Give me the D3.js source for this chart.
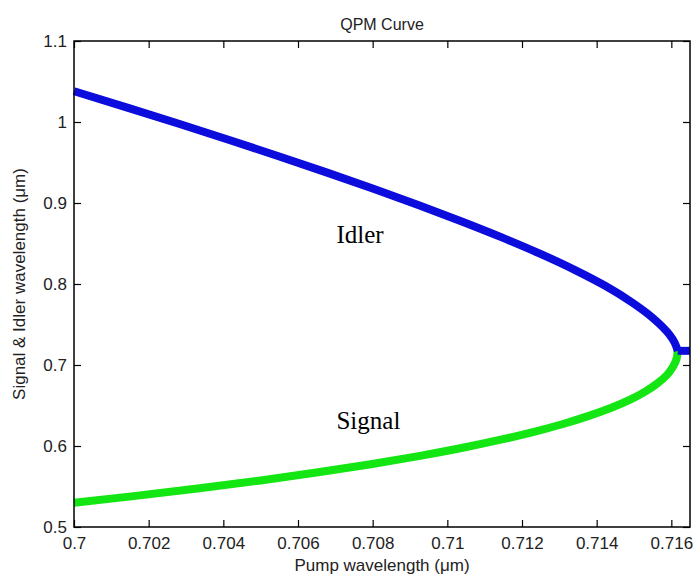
<!DOCTYPE html>
<html>
<head>
<meta charset="utf-8">
<script src="https://cdn.jsdelivr.net/npm/d3@7"></script>
<style>
  body { margin: 0; background: #fff; }
  svg { display: block; }
</style>
</head>
<body>
<svg id="chart" width="693" height="577"></svg>
<script>
// pump wavelength ticks (um)
var xTicks = [0.7, 0.702, 0.704, 0.706, 0.708, 0.71, 0.712, 0.714, 0.716];
var yTicks = [0.5, 0.6, 0.7, 0.8, 0.9, 1, 1.1];

// idler branch: output wavelength vs pump wavelength
var idlerLambda = [1.038, 1.0175, 0.9975, 0.9775, 0.9575, 0.9375, 0.9175, 0.8975, 0.8775, 0.8575,
                   0.8375, 0.8175, 0.7975, 0.7775, 0.7575, 0.7375, 0.7275, 0.7175];
var idlerPump   = [0.7000, 0.70145, 0.70283, 0.70418, 0.7055, 0.70678, 0.70802, 0.70922, 0.71037, 0.71146,
                   0.71248, 0.71341, 0.71424, 0.71494, 0.71552, 0.71595, 0.71609, 0.71617];

// signal branch
var signalLambda = [0.530, 0.5375, 0.5475, 0.5575, 0.5675, 0.5775, 0.5875, 0.5975, 0.6075, 0.6175,
                    0.6275, 0.6375, 0.6475, 0.6575, 0.6675, 0.6775, 0.6875, 0.6975, 0.7075, 0.7175];
var signalPump   = [0.7000, 0.70148, 0.70331, 0.70500, 0.70654, 0.70795, 0.70923, 0.71038, 0.7114, 0.71232,
                    0.71312, 0.71381, 0.71441, 0.71491, 0.71531, 0.71563, 0.71588, 0.71604, 0.71614, 0.71617];

// degenerate flat part past the turning point
var flatPump   = [0.71617, 0.7165];
var flatLambda = [0.7175, 0.7175];

var boxLeft = 74, boxRight = 690, boxTop = 41, boxBottom = 527;

var svg = d3.select("#chart");

var x = d3.scaleLinear().domain([0.7, 0.7165]).range([boxLeft, boxRight]);
var y = d3.scaleLinear().domain([0.5, 1.1]).range([boxBottom, boxTop]);

var line = d3.line()
  .x(function(d) { return x(d[0]); })
  .y(function(d) { return y(d[1]); })
  .curve(d3.curveMonotoneY);

function pairs(px, py) {
  return px.map(function(v, i) { return [v, py[i]]; });
}

// curves
svg.append("path")
  .attr("d", line(pairs(signalPump, signalLambda)))
  .attr("fill", "none")
  .attr("stroke", "#14e614")
  .attr("stroke-width", 8);

svg.append("path")
  .attr("d", line(pairs(idlerPump, idlerLambda)))
  .attr("fill", "none")
  .attr("stroke", "#0c0cdc")
  .attr("stroke-width", 8);

svg.append("path")
  .attr("d", d3.line()(pairs(flatPump, flatLambda).map(function(d) { return [x(d[0]), y(d[1])]; })))
  .attr("fill", "none")
  .attr("stroke", "#0c0cdc")
  .attr("stroke-width", 8);

// axes box, ticks inside on all four sides
var fontTick = "'Liberation Sans', Arial, sans-serif";

svg.append("g").attr("transform", "translate(0," + boxBottom + ")")
  .call(d3.axisBottom(x).tickValues(xTicks).tickSize(-7).tickPadding(10).tickFormat(d3.format("~g")));
svg.append("g").attr("transform", "translate(0," + boxTop + ")")
  .call(d3.axisTop(x).tickValues(xTicks).tickSize(-7).tickFormat(""));
svg.append("g").attr("transform", "translate(" + boxLeft + ",0)")
  .call(d3.axisLeft(y).tickValues(yTicks).tickSize(-7).tickPadding(7).tickFormat(d3.format("~g")));
svg.append("g").attr("transform", "translate(" + boxRight + ",0)")
  .call(d3.axisRight(y).tickValues(yTicks).tickSize(-7).tickFormat(""));

svg.selectAll(".domain").remove();
svg.selectAll(".tick line").attr("stroke", "#000").attr("stroke-width", 1.2);
svg.selectAll(".tick text")
  .style("font-family", fontTick)
  .style("font-size", "17px")
  .attr("fill", "#222");

svg.append("rect")
  .attr("x", boxLeft).attr("y", boxTop)
  .attr("width", boxRight - boxLeft).attr("height", boxBottom - boxTop)
  .attr("fill", "none")
  .attr("stroke", "#000")
  .attr("stroke-width", 1.5);

// titles
svg.append("text")
  .attr("x", (boxLeft + boxRight) / 2).attr("y", 30)
  .attr("text-anchor", "middle")
  .style("font-family", fontTick).style("font-size", "16px")
  .attr("fill", "#222")
  .text("QPM Curve");

svg.append("text")
  .attr("x", (boxLeft + boxRight) / 2).attr("y", 571)
  .attr("text-anchor", "middle")
  .style("font-family", fontTick).style("font-size", "17px")
  .attr("fill", "#222")
  .text("Pump wavelength (\u03bcm)");

svg.append("text")
  .attr("transform", "translate(25," + (boxTop + boxBottom) / 2 + ") rotate(-90)")
  .attr("text-anchor", "middle")
  .style("font-family", fontTick).style("font-size", "17px")
  .attr("fill", "#222")
  .text("Signal & Idler wavelength (\u03bcm)");

// curve labels
svg.append("text")
  .attr("x", x(0.70703)).attr("y", y(0.8505))
  .style("font-family", "'Liberation Serif', 'Times New Roman', serif")
  .style("font-size", "25px")
  .text("Idler");

svg.append("text")
  .attr("x", x(0.70703)).attr("y", y(0.621))
  .style("font-family", "'Liberation Serif', 'Times New Roman', serif")
  .style("font-size", "25px")
  .text("Signal");
</script>
</body>
</html>
